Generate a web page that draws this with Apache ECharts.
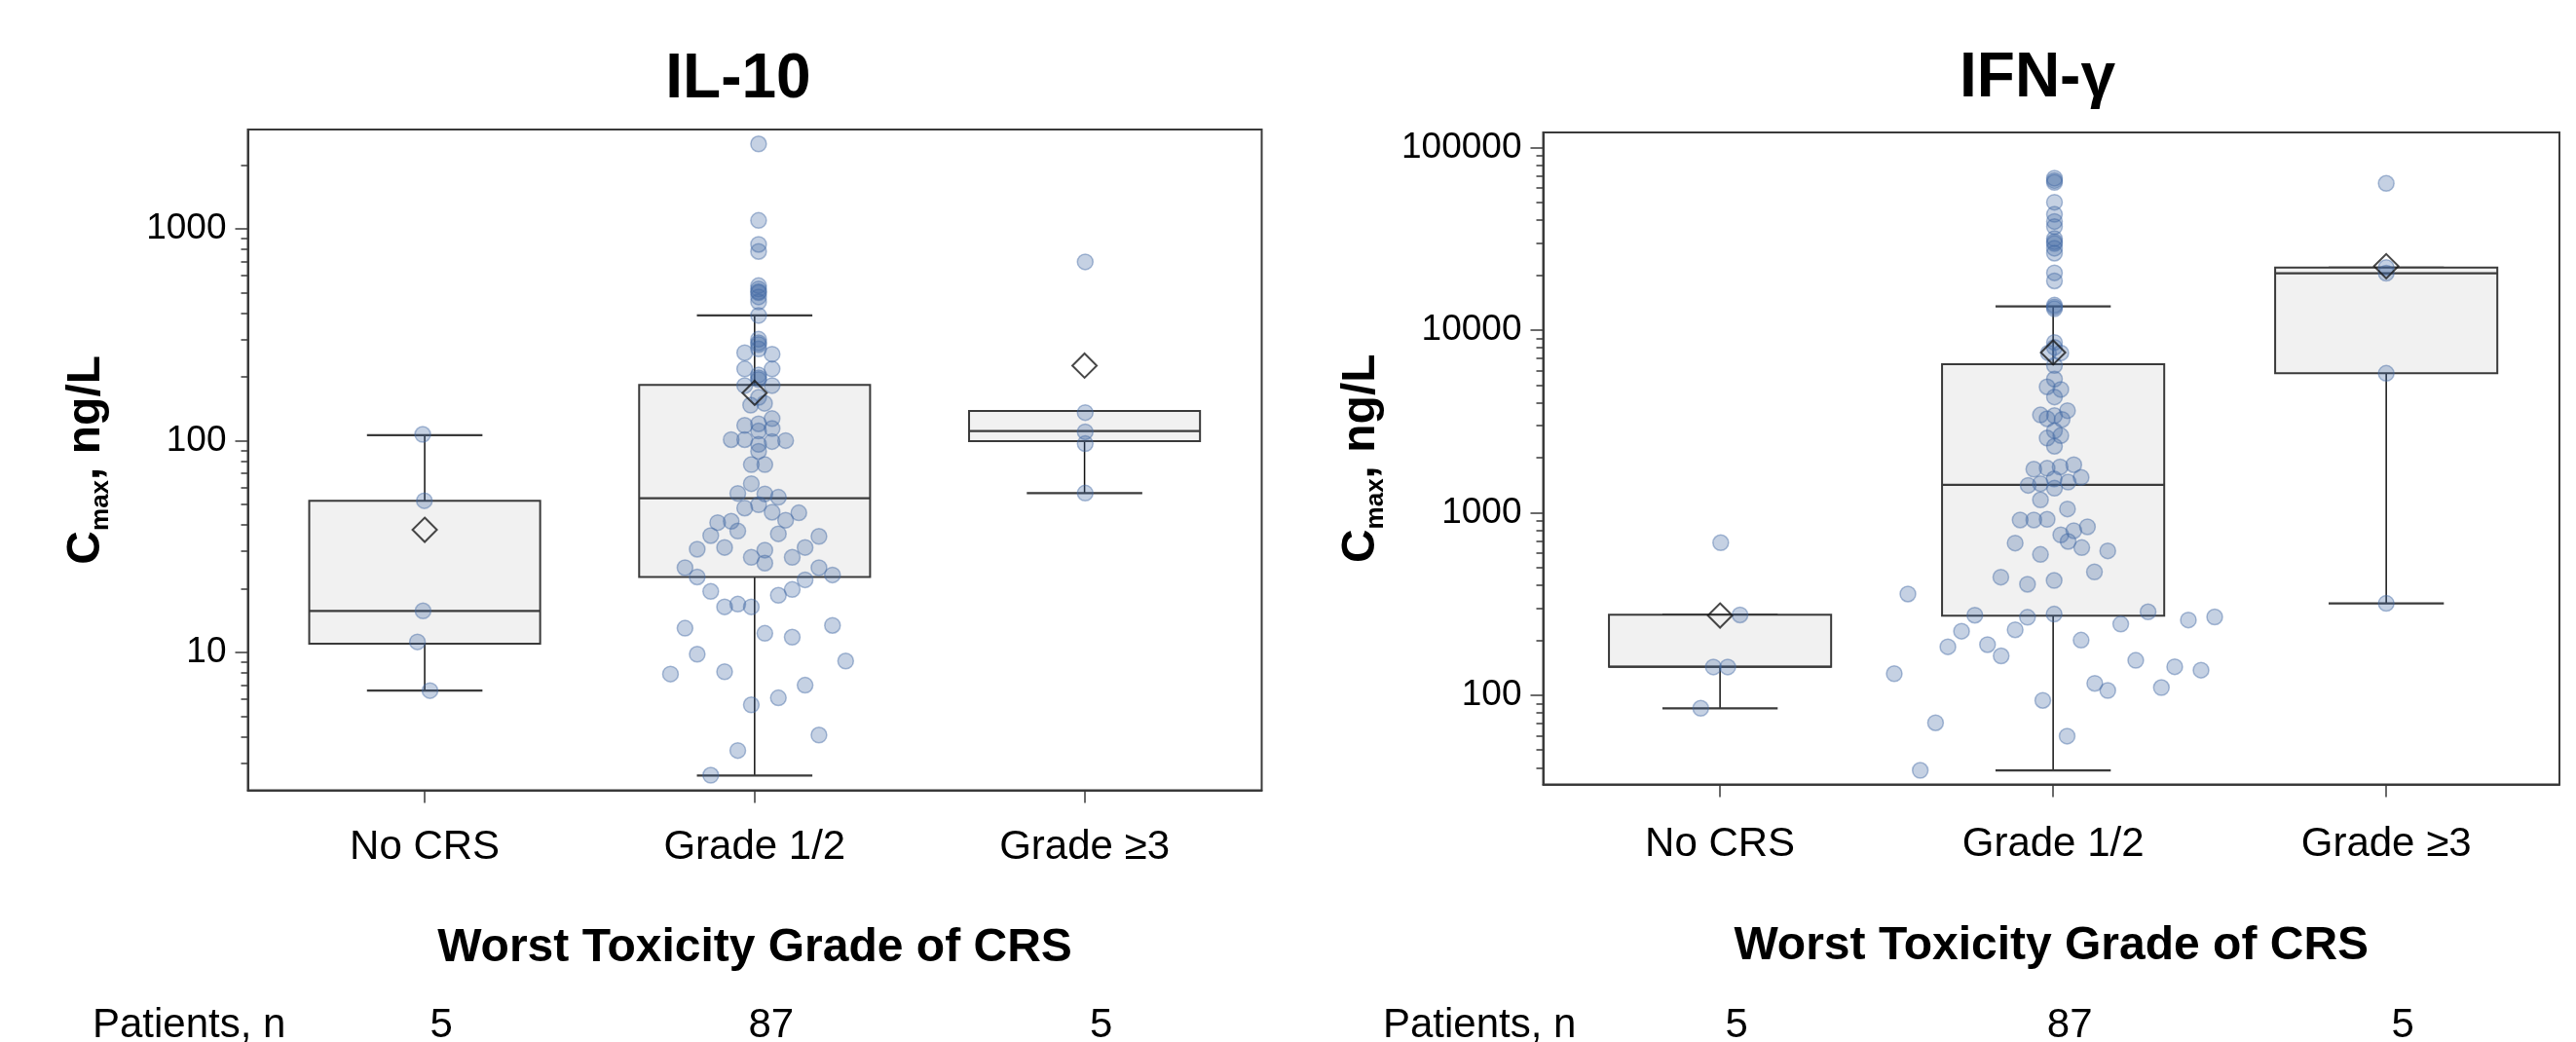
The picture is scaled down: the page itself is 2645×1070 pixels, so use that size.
<!DOCTYPE html>
<html>
<head>
<meta charset="utf-8">
<title>Cmax of IL-10 and IFN-γ by worst CRS grade</title>
<script src="https://cdn.jsdelivr.net/npm/echarts@6.0.0/dist/echarts.min.js"></script>
<style>
html,body{margin:0;padding:0;background:#ffffff;}
#chart{width:2645px;height:1070px;}
</style>
</head>
<body>
<div id="chart"></div>
<script>
// ================= DATA =================
const categories = ['No CRS', 'Grade 1/2', 'Grade \u22653'];
const patientCounts = [5, 87, 5];
const xAxisTitle = 'Worst Toxicity Grade of CRS';
const countRowLabel = 'Patients, n';

// tick labels (ng/L)
const il10MajorTicks = [10, 100, 1000];
const il10MinorTicks = [3, 4, 5, 6, 7, 8, 9, 20, 30, 40, 50, 60, 70, 80, 90,
  200, 300, 400, 500, 600, 700, 800, 900, 2000];
const ifngMajorTicks = [100, 1000, 10000, 100000];
const ifngMinorTicks = [40, 50, 60, 70, 80, 90, 200, 300, 400, 500, 600, 700, 800, 900,
  2000, 3000, 4000, 5000, 6000, 7000, 8000, 9000,
  20000, 30000, 40000, 50000, 60000, 70000, 80000, 90000];

// ---- IL-10 ----
// [lower whisker, Q1, median, Q3, upper whisker] per category
const il10Box = [
  [6.6, 11.0, 15.7, 52, 106],
  [2.62, 22.7, 53.4, 183, 390],
  [56.5, 99.5, 111, 138, 138]
];
const il10Mean = [37.9, 168, 226];
const il10NoCrs = [107, 52, 15.7, 11.2, 6.6];
const il10NoCrsJitter = [-0.006, -0.001, -0.005, -0.022, 0.016];
const il10Grade12 = [2518, 1096, 844, 782, 539, 520, 505, 499, 477, 452, 390, 301, 290, 284, 271,
  260, 256, 218, 218, 204, 198, 194, 182, 182, 160, 147, 150, 127, 118, 120, 111, 114, 101, 101,
  96, 99, 100, 89, 77, 77, 62.6, 56.3, 56, 54, 49.8, 48, 45.9, 45.6, 42.1, 41, 41.6, 37.4, 36.3,
  35.6, 35.3, 30.7, 31.3, 31.3, 30.4, 28.1, 28.1, 26.4, 25.1, 25.1, 22.7, 23.2, 22.0, 19.8, 19.4,
  18.6, 16.4, 16.9, 16.4, 13.0, 13.4, 12.3, 11.8, 9.8, 9.1, 7.9, 8.1, 7.0, 6.1, 5.65, 4.07, 3.44, 2.63];
const il10Grade12Jitter = [0.012, 0.012, 0.012, 0.012, 0.012, 0.012, 0.012, 0.012, 0.012, 0.012, 0.012, 0.012, 0.012, 0.012, 0.012,
  -0.030, 0.053, -0.030, 0.053, 0.012, 0.012, 0.012, -0.030, 0.053, 0.012, -0.012, 0.030, 0.053, -0.030, 0.012, 0.012, 0.053, -0.071, -0.030,
  0.012, 0.053, 0.094, 0.012, -0.010, 0.031, -0.010, -0.051, 0.031, 0.072, 0.012, -0.030, 0.053, 0.134, 0.094, -0.112, -0.071, -0.051, 0.072,
  -0.133, 0.195, -0.174, -0.091, 0.153, 0.031, -0.010, 0.114, 0.031, -0.211, 0.195, -0.174, 0.236, 0.153, 0.114, -0.133,
  0.072, -0.091, -0.051, -0.010, -0.211, 0.236, 0.031, 0.114, -0.174, 0.276, -0.255, -0.091, 0.153, 0.072, -0.010, 0.195, -0.051, -0.133];
const il10Grade3 = [698, 135.6, 110, 96.7, 56.5];
const il10Grade3Jitter = [0.002, 0.002, 0.002, 0.002, 0.002];

// ---- IFN-gamma ----
const ifngBox = [
  [84.7, 143, 143, 276, 276],
  [38.7, 272, 1420, 6500, 13500],
  [318, 5800, 20500, 22000, 22000]
];
const ifngMean = [273, 7540, 22400];
const ifngNoCrs = [684, 275, 142.6, 142.6, 84.7];
const ifngNoCrsJitter = [0.002, 0.06, -0.02, 0.023, -0.058];
const ifngGrade12 = [68000, 66000, 64500, 50200, 43100, 39400, 36900, 31700, 30500, 29800, 28100, 26400,
  20600, 18600, 13700, 13400, 13100, 8560, 8050, 7500, 7500, 6400, 5390, 4890, 4730, 4300, 3620, 3430,
  3400, 3270, 3240, 2810, 2560, 2640, 2310, 1730, 1750, 1780, 1830, 1530, 1560, 1410, 1440, 1360, 1470,
  1175, 1047, 911, 911, 919, 755, 796, 836, 695, 681, 643, 617, 590, 473, 443, 405, 425, 358, 274, 286,
  278, 267, 258, 268, 245, 224, 228, 200, 184, 189, 164, 155, 131, 143, 137, 116, 106, 110, 93.5, 70.5, 59.6, 38.7];
const ifngGrade12Jitter = [0.004, 0.004, 0.004, 0.004, 0.004, 0.004, 0.004, 0.004, 0.004, 0.004, 0.004, 0.004,
  0.004, 0.004, 0.004, 0.004, 0.004, 0.004, 0.004, -0.014, 0.023, 0.004, 0.004, -0.018, 0.023, 0.004, 0.043, -0.038,
  0.004, -0.018, 0.027, 0.004, -0.018, 0.023, 0.004, -0.058, -0.018, 0.021, 0.062, 0.003, 0.084, -0.075, -0.038, 0.004, 0.045,
  -0.038, 0.043, -0.099, -0.058, -0.018, 0.023, 0.062, 0.103, 0.045, -0.114, 0.086, 0.164, -0.038, 0.124, -0.157, -0.077, 0.003, -0.436, -0.235, 0.285,
  0.003, -0.077, 0.406, 0.485, 0.203, -0.275, -0.114, 0.084, -0.316, -0.197, -0.156, 0.248, -0.477, 0.365, 0.444, 0.125, 0.164, 0.325, -0.031, -0.353, 0.042, -0.399];
const ifngGrade3 = [63700, 22000, 20500, 5800, 318];
const ifngGrade3Jitter = [0, 0, 0, 0, 0];

// ================= LAYOUT / STYLE =================
const FONT = '"Liberation Sans", Arial, Helvetica, sans-serif';
const lg = (v) => Math.log10(v);

const panels = [
  {
    title: 'IL-10', titleX: 758, titleTop: 50,
    grid: { left: 254.5, top: 133, width: 1041, height: 678.6 },
    xMin: -0.536, xMax: 2.537, yMin: 2.23, yMax: 2944,
    boxFrac: 0.70, capFrac: 0.35,
    catMargin: 38, xNameGap: 138, yNameGap: 138, countOffset: 221, countRowX: 95,
    major: il10MajorTicks, minor: il10MinorTicks,
    box: il10Box, mean: il10Mean,
    groups: [[il10NoCrs, il10NoCrsJitter], [il10Grade12, il10Grade12Jitter], [il10Grade3, il10Grade3Jitter]]
  },
  {
    title: 'IFN-\u03b3', titleX: 2092, titleTop: 49,
    grid: { left: 1584.5, top: 136, width: 1043.5, height: 669.5 },
    xMin: -0.531, xMax: 2.520, yMin: 32.4, yMax: 121100,
    boxFrac: 0.667, capFrac: 0.346,
    catMargin: 41, xNameGap: 142, yNameGap: 159, countOffset: 227, countRowX: 1420,
    major: ifngMajorTicks, minor: ifngMinorTicks,
    box: ifngBox, mean: ifngMean,
    groups: [[ifngNoCrs, ifngNoCrsJitter], [ifngGrade12, ifngGrade12Jitter], [ifngGrade3, ifngGrade3Jitter]]
  }
];

const LINE = '#3a3a3a';

function makeBoxRenderer(boxFrac, capFrac) {
  return function (params, api) {
    const x = api.value(0);
    const pLo = api.coord([x, api.value(1)]);
    const pQ1 = api.coord([x, api.value(2)]);
    const pMed = api.coord([x, api.value(3)]);
    const pQ3 = api.coord([x, api.value(4)]);
    const pHi = api.coord([x, api.value(5)]);
    const bw = api.size([boxFrac, 0])[0];
    const cw = api.size([capFrac, 0])[0];
    const cx = pMed[0];
    const whisker = { stroke: '#111111', lineWidth: 1.5 };
    const heavy = { stroke: LINE, lineWidth: 2.2 };
    return {
      type: 'group',
      children: [
        { type: 'line', shape: { x1: cx, y1: pQ1[1], x2: cx, y2: pLo[1] }, style: whisker },
        { type: 'line', shape: { x1: cx, y1: pQ3[1], x2: cx, y2: pHi[1] }, style: whisker },
        { type: 'line', shape: { x1: cx - cw / 2, y1: pLo[1], x2: cx + cw / 2, y2: pLo[1] }, style: heavy },
        { type: 'line', shape: { x1: cx - cw / 2, y1: pHi[1], x2: cx + cw / 2, y2: pHi[1] }, style: heavy },
        { type: 'rect', shape: { x: cx - bw / 2, y: pQ3[1], width: bw, height: pQ1[1] - pQ3[1] },
          style: { fill: '#f1f1f1', stroke: LINE, lineWidth: 2 } },
        { type: 'line', shape: { x1: cx - bw / 2, y1: pMed[1], x2: cx + bw / 2, y2: pMed[1] }, style: heavy }
      ]
    };
  };
}

const option = {
  animation: false,
  backgroundColor: '#ffffff',
  textStyle: { fontFamily: FONT },
  title: [], grid: [], xAxis: [], yAxis: [], series: []
};

panels.forEach((P, p) => {
  const yMin = lg(P.yMin), yMax = lg(P.yMax);
  option.title.push({
    text: P.title, left: P.titleX, top: P.titleTop, textAlign: 'center', padding: 0,
    textStyle: { fontSize: 64, fontWeight: 'bold', color: '#000', fontFamily: FONT }
  });
  option.title.push({
    text: countRowLabel, left: P.countRowX, top: P.grid.top + P.grid.height + P.countOffset, padding: 0,
    textStyle: { fontSize: 42, fontWeight: 'normal', color: '#000', fontFamily: FONT }
  });
  option.grid.push(Object.assign({
    show: true, borderColor: LINE, borderWidth: 2, backgroundColor: 'rgba(0,0,0,0)',
    containLabel: false, outerBoundsMode: 'none'
  }, P.grid));

  // main x axis (categories)
  option.xAxis.push({
    gridIndex: p, type: 'value', min: P.xMin, max: P.xMax, position: 'bottom',
    axisLine: { show: true, onZero: false, lineStyle: { color: LINE, width: 2 } },
    axisTick: { show: true, customValues: [0, 1, 2], length: 13, lineStyle: { color: LINE, width: 1.5 } },
    axisLabel: { show: true, customValues: [0, 1, 2], formatter: (v) => categories[Math.round(v)],
      fontSize: 42, color: '#000', fontFamily: FONT, margin: P.catMargin },
    splitLine: { show: false },
    name: xAxisTitle, nameLocation: 'middle', nameGap: P.xNameGap,
    nameTextStyle: { fontSize: 48, fontWeight: 'bold', color: '#000', fontFamily: FONT }
  });
  // patient-count row
  option.xAxis.push({
    gridIndex: p, type: 'value', min: P.xMin, max: P.xMax, position: 'bottom', offset: P.countOffset,
    axisLine: { show: false, onZero: false }, axisTick: { show: false }, splitLine: { show: false },
    axisLabel: { show: true, customValues: [0, 1, 2], formatter: (v) => String(patientCounts[Math.round(v)]),
      fontSize: 42, color: '#000', fontFamily: FONT, margin: 0, padding: [0, 0, 0, 34] }
  });
  // main y axis (log10 of values)
  option.yAxis.push({
    gridIndex: p, type: 'value', min: yMin, max: yMax, position: 'left',
    axisLine: { show: true, onZero: false, lineStyle: { color: LINE, width: 2 } },
    axisTick: { show: true, customValues: P.major.map(lg), length: 13, lineStyle: { color: LINE, width: 1.5 } },
    axisLabel: { show: true, customValues: P.major.map(lg),
      formatter: (v) => String(Math.round(Math.pow(10, v))),
      fontSize: 37, color: '#000', fontFamily: FONT, margin: 22 },
    splitLine: { show: false },
    name: '{c|C}{s|max}{c|, ng/L}', nameLocation: 'middle', nameGap: P.yNameGap, nameRotate: 90,
    nameTextStyle: {
      color: '#000', fontFamily: FONT,
      rich: {
        c: { fontSize: 48, fontWeight: 'bold', color: '#000', fontFamily: FONT },
        s: { fontSize: 26, fontWeight: 'bold', color: '#000', fontFamily: FONT, padding: [29, 0, 0, 0] }
      }
    }
  });
  // minor ticks
  option.yAxis.push({
    gridIndex: p, type: 'value', min: yMin, max: yMax, position: 'left',
    axisLine: { show: false, onZero: false }, axisLabel: { show: false }, splitLine: { show: false },
    axisTick: { show: true, customValues: P.minor.map(lg), length: 7, lineStyle: { color: LINE, width: 1.5 } }
  });

  const xi = 2 * p, yi = 2 * p;
  option.series.push({
    type: 'custom', xAxisIndex: xi, yAxisIndex: yi, z: 2,
    renderItem: makeBoxRenderer(P.boxFrac, P.capFrac),
    encode: { x: 0, y: [1, 2, 3, 4, 5] },
    data: P.box.map((b, i) => [i].concat(b.map(lg)))
  });
  const pts = [];
  P.groups.forEach((g, i) => {
    g[0].forEach((v, k) => pts.push([i + g[1][k], lg(v)]));
  });
  option.series.push({
    type: 'scatter', xAxisIndex: xi, yAxisIndex: yi, z: 3,
    symbol: 'circle', symbolSize: 16,
    itemStyle: { color: 'rgba(66,104,163,0.38)', borderColor: 'rgba(66,104,163,0.55)', borderWidth: 1.5 },
    data: pts
  });
  option.series.push({
    type: 'scatter', xAxisIndex: xi, yAxisIndex: yi, z: 4,
    symbol: 'diamond', symbolSize: [25, 25],
    itemStyle: { color: 'rgba(0,0,0,0)', borderColor: '#1a1a1a', borderWidth: 2 },
    data: P.mean.map((m, i) => [i, lg(m)])
  });
});

const chart = echarts.init(document.getElementById('chart'), null, { renderer: 'canvas' });
chart.setOption(option);
</script>
</body>
</html>
